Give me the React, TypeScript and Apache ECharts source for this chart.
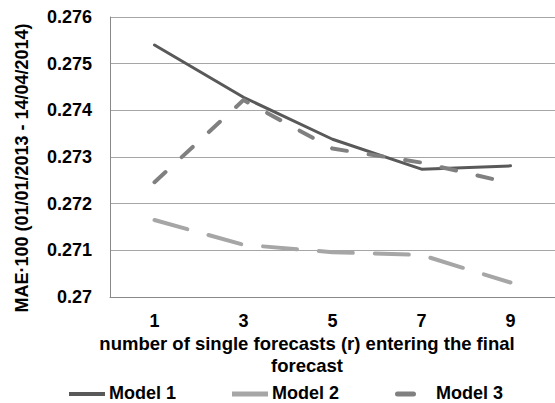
import React, { useEffect, useRef } from "react";
import * as echarts from "echarts";

const categories = ["1", "3", "5", "7", "9"];
const model1 = [0.2754, 0.27428, 0.27338, 0.27274, 0.27281];
const model2 = [0.27165, 0.27112, 0.27096, 0.2709, 0.27031];
const model3 = [0.27246, 0.27422, 0.27318, 0.27288, 0.27244];
const yTicks = { min: 0.27, max: 0.276, interval: 0.001 };
const seriesNames = ["Model 1", "Model 2", "Model 3"];
const xTitle = "number of single forecasts (r) entering the final\nforecast";
const yTitle = "MAE·100 (01/01/2013 - 14/04/2014)";

const FONT = "Liberation Sans, Arial, sans-serif";
const C1 = "#595959";
const C2 = "#a6a6a6";
const C3 = "#808080";

export default function App() {
  const ref = useRef<HTMLDivElement>(null);
  useEffect(() => {
    if (!ref.current) return;
    const chart = echarts.init(ref.current, undefined, { renderer: "svg" });
    const txt = { color: "#000", fontWeight: "bold" as const, fontSize: 18, fontFamily: FONT };
    const legendFont = `bold 18px ${FONT}`;
    const legendItems = [
      { name: seriesNames[0], color: C1, x: 69, w: 36, h: 4, r: 0, tx: 109 },
      { name: seriesNames[1], color: C2, x: 232, w: 36, h: 5, r: 0, tx: 272 },
      { name: seriesNames[2], color: C3, x: 395, w: 21, h: 5, r: 2.5, tx: 436 },
    ];
    const legendGraphics = legendItems.flatMap((it) => [
      {
        type: "rect",
        shape: { x: it.x, y: 394 - it.h / 2, width: it.w, height: it.h, r: it.r },
        style: { fill: it.color },
      },
      {
        type: "text",
        x: it.tx,
        y: 393,
        style: { text: it.name, textAlign: "left", textVerticalAlign: "middle", font: legendFont, fill: "#000" },
      },
    ]);
    chart.setOption({
      animation: false,
      backgroundColor: "#fff",
      grid: { left: 110, right: -3, top: 17, bottom: 106, containLabel: false },
      xAxis: {
        type: "category",
        data: categories,
        boundaryGap: true,
        axisLine: { show: true, lineStyle: { color: "#888", width: 1 } },
        axisTick: { show: false },
        axisLabel: { ...txt, margin: 15 },
        splitLine: { show: false },
      },
      yAxis: {
        type: "value",
        min: yTicks.min,
        max: yTicks.max,
        interval: yTicks.interval,
        axisLine: { show: true, lineStyle: { color: "#888", width: 1 } },
        axisTick: { show: false },
        axisLabel: { ...txt, margin: 18, formatter: (v: number) => String(parseFloat(v.toFixed(3))) },
        splitLine: { show: true, lineStyle: { color: "#a6a6a6", width: 1 } },
      },
      graphic: [
        {
          type: "text",
          x: 307,
          y: 332,
          style: { text: xTitle, textAlign: "center", textVerticalAlign: "top", font: `bold 18.5px ${FONT}`, lineHeight: 22, fill: "#000" },
        },
        {
          type: "text",
          x: 22,
          y: 168,
          rotation: Math.PI / 2,
          style: { text: yTitle, textAlign: "center", textVerticalAlign: "middle", font: `bold 18px ${FONT}`, fill: "#000" },
        },
        ...legendGraphics,
      ],
      series: [
        {
          name: seriesNames[0], type: "line", data: model1, showSymbol: false, symbol: "none",
          itemStyle: { color: C1 },
          lineStyle: { color: C1, width: 3, cap: "round", join: "round" },
        },
        {
          name: seriesNames[1], type: "line", data: model2, showSymbol: false, symbol: "none",
          itemStyle: { color: C2 },
          lineStyle: { color: C2, width: 4, type: [34, 22], cap: "round", join: "round" },
        },
        {
          name: seriesNames[2], type: "line", data: model3, showSymbol: false, symbol: "none",
          itemStyle: { color: C3 },
          lineStyle: { color: C3, width: 4, type: [15, 22], cap: "round", join: "round" },
        },
      ],
    });
    return () => chart.dispose();
  }, []);
  return <div ref={ref} style={{ position: "fixed", left: 0, top: 0, width: 555, height: 403 }} />;
}
